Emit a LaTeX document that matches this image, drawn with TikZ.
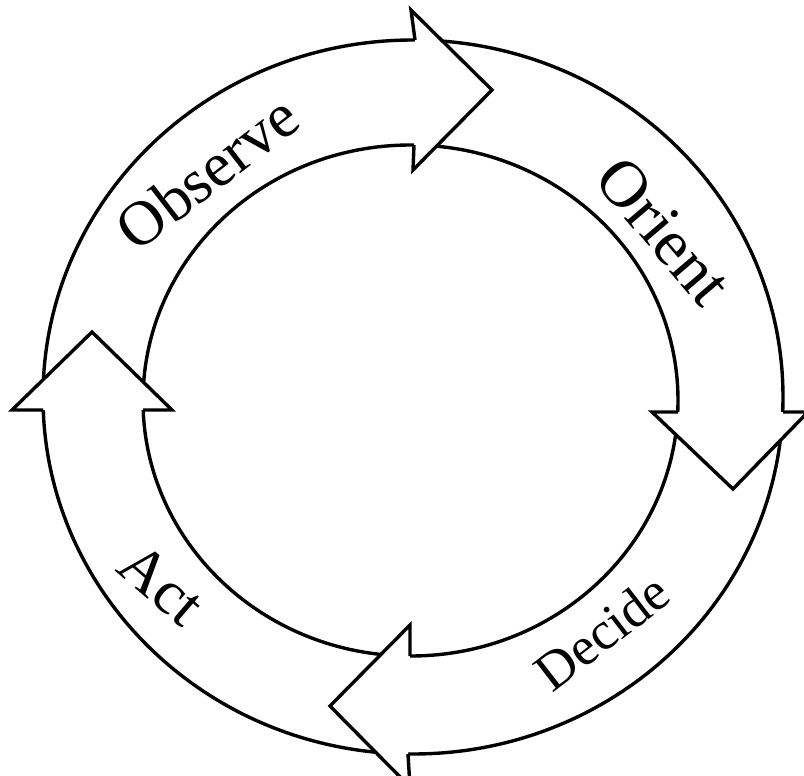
\documentclass[tikz,border=0pt]{standalone}
\usepackage{fontspec}
\setmainfont{Liberation Serif}
\begin{document}
\begin{tikzpicture}[x=0.5pt,y=-0.5pt,
  ring/.style={line width=1.7pt},
  headfill/.style={fill=white},
  headline/.style={line width=1.7pt,line join=miter},
  lbl/.style={inner sep=0pt,font=\fontsize{#1}{#1}\selectfont}]
\useasboundingbox (0,0) rectangle (804,776);
\clip (0,0) rectangle (804,776);
% ring
\draw[ring] (413,397) ellipse [x radius=370, y radius=357];
\draw[ring] (410.5,400.5) ellipse [x radius=267.5, y radius=255.5];
% top head (Observe)
\coordinate (tSo) at (415,40);  \coordinate (tBo) at (411,10);
\coordinate (tT) at (492,90);   \coordinate (tBi) at (413,170);
\coordinate (tSi) at (414,145);
\fill[headfill] (tSo) -- (tBo) -- (tT) -- (tBi) -- (tSi) -- cycle;
\draw[headline] (tSo) -- (tBo) -- (tT) -- (tBi) -- (tSi);
% right head (Orient)
\coordinate (rSo) at (783,412); \coordinate (rBo) at (808,412);
\coordinate (rT) at (733,489);  \coordinate (rBi) at (652,412);
\coordinate (rSi) at (678,412);
\fill[headfill] (rSo) -- (rBo) -- (rT) -- (rBi) -- (rSi) -- cycle;
\draw[headline] (rSo) -- (rBo) -- (rT) -- (rBi) -- (rSi);
% bottom head (Decide)
\coordinate (bSi) at (410,656); \coordinate (bBi) at (410,625);
\coordinate (bT) at (330,706);  \coordinate (bBo) at (410,787);
\coordinate (bSo) at (408,754);
\fill[headfill] (bSi) -- (bBi) -- (bT) -- (bBo) -- (bSo) -- cycle;
\draw[headline] (bSi) -- (bBi) -- (bT) -- (bBo) -- (bSo);
% left head (Act)
\coordinate (lSo) at (43,410);  \coordinate (lBo) at (12,410);
\coordinate (lT) at (92,332);   \coordinate (lBi) at (172,410);
\coordinate (lSi) at (143,410);
\fill[headfill] (lSo) -- (lBo) -- (lT) -- (lBi) -- (lSi) -- cycle;
\draw[headline] (lSo) -- (lBo) -- (lT) -- (lBi) -- (lSi);
% labels
\node[lbl=31.5, rotate=37.6] (observe) at (207,172) {Observe};
\node[lbl=33, rotate=-49.6] (orient) at (664,231) {Orient};
\node[lbl=27, rotate=37.6] (decide) at (602,632) {Decide};
\node[lbl=31, rotate=-40.7] (act) at (162,584) {Act};
\end{tikzpicture}
\end{document}
